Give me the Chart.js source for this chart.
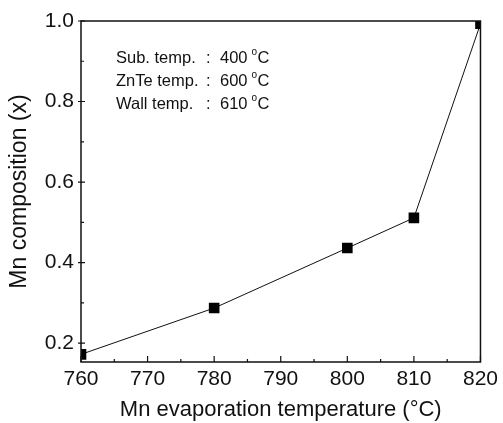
<!DOCTYPE html>
<html>
<head>
<meta charset="utf-8">
<script src="https://cdn.jsdelivr.net/npm/chart.js@4"></script>
<style>
  html, body { margin: 0; padding: 0; background: #fff; }
  #wrap { width: 503px; height: 423px; position: relative; }
</style>
</head>
<body>
<div id="wrap"><canvas id="c"></canvas></div>
<script>
// data
const temps = [760, 780, 800, 810, 820];
const mnComp = [0.172, 0.287, 0.436, 0.511, 0.993];
const xTicks = [760, 770, 780, 790, 800, 810, 820];
const xMinor = [765, 775, 785, 795, 805, 815];
const yTicks = [0.2, 0.4, 0.6, 0.8, 1.0];
const yMinor = [0.3, 0.5, 0.7, 0.9];
const noteLabels = ['Sub. temp.', 'ZnTe temp.', 'Wall temp.'];
const noteValues = ['400', '600', '610'];

const FONT = 'Liberation Sans, Arial, sans-serif';

// frame, inward ticks and the little condition list
const framePlugin = {
    id: 'frame',
    afterDatasetsDraw(chart) {
        const ctx = chart.ctx;
        const a = chart.chartArea;
        const xs = chart.scales.x, ys = chart.scales.y;
        ctx.save();
        ctx.strokeStyle = '#111';
        ctx.lineWidth = 1.5;
        ctx.strokeRect(a.left, a.top, a.right - a.left, a.bottom - a.top);

        ctx.lineWidth = 1.2;
        ctx.beginPath();
        xTicks.forEach(v => {
            const px = xs.getPixelForValue(v);
            ctx.moveTo(px, a.bottom); ctx.lineTo(px, a.bottom - 6);
        });
        xMinor.forEach(v => {
            const px = xs.getPixelForValue(v);
            ctx.moveTo(px, a.bottom); ctx.lineTo(px, a.bottom - 3);
        });
        yTicks.forEach(v => {
            const py = ys.getPixelForValue(v);
            ctx.moveTo(a.left - 3, py); ctx.lineTo(a.left + 4, py);
        });
        yMinor.forEach(v => {
            const py = ys.getPixelForValue(v);
            ctx.moveTo(a.left, py); ctx.lineTo(a.left + 3, py);
        });
        ctx.stroke();

        // notes
        ctx.fillStyle = '#111';
        ctx.textBaseline = 'middle';
        ctx.textAlign = 'left';
        noteLabels.forEach((t, i) => {
            const y = 58 + i * 23;
            ctx.font = '16.5px ' + FONT;
            ctx.fillText(t, 116, y);
            ctx.fillText(':', 206, y);
            ctx.fillText(noteValues[i], 220, y);
            const w = ctx.measureText(noteValues[i]).width;
            ctx.font = '10px ' + FONT;
            ctx.fillText('o', 220 + w + 4, y - 6);
            ctx.font = '16.5px ' + FONT;
            ctx.fillText('C', 220 + w + 10, y);
        });
        ctx.restore();
    }
};

new Chart(document.getElementById('c'), {
    type: 'line',
    data: {
        datasets: [{
            data: temps.map((t, i) => ({ x: t, y: mnComp[i] })),
            borderColor: '#111',
            borderWidth: 1,
            backgroundColor: '#000',
            pointStyle: 'rect',
            pointRadius: 7.5,
            pointBorderWidth: 0,
            pointBackgroundColor: '#000',
            tension: 0,
            clip: 0
        }]
    },
    options: {
        responsive: true,
        maintainAspectRatio: false,
        animation: false,
        events: [],
        layout: { padding: { top: 21, right: 19, left: 0, bottom: 0 } },
        plugins: {
            legend: { display: false },
            tooltip: { enabled: false }
        },
        scales: {
            x: {
                type: 'linear',
                min: 760,
                max: 820,
                afterBuildTicks: s => { s.ticks = xTicks.map(v => ({ value: v })); },
                grid: { display: false, drawTicks: false },
                border: { display: false },
                ticks: {
                    color: '#111',
                    padding: 5,
                    font: { family: FONT, size: 21 },
                    maxRotation: 0,
                    callback: v => String(v)
                },
                title: {
                    display: true,
                    text: 'Mn evaporation temperature (°C)',
                    color: '#111',
                    font: { family: FONT, size: 22 },
                    padding: { top: 5, bottom: 0 }
                },
                afterFit: s => { s.height = 61; }
            },
            y: {
                min: 0.153,
                max: 1.0,
                afterBuildTicks: s => { s.ticks = yTicks.map(v => ({ value: v })); },
                grid: { display: false, drawTicks: false },
                border: { display: false },
                ticks: {
                    color: '#111',
                    padding: 7,
                    font: { family: FONT, size: 21 },
                    callback: v => Number(v).toFixed(1)
                },
                title: {
                    display: true,
                    text: 'Mn composition (x)',
                    color: '#111',
                    font: { family: FONT, size: 23 },
                    padding: { top: 6, bottom: 0 }
                },
                afterFit: s => { s.width = 81; }
            }
        }
    },
    plugins: [framePlugin]
});
</script>
</body>
</html>
